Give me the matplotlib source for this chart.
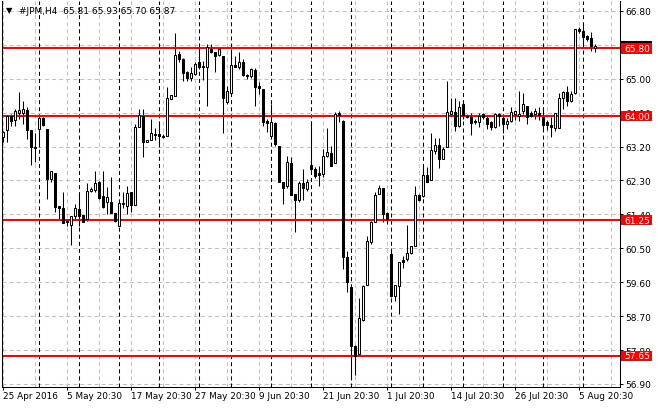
import numpy as np
import matplotlib
matplotlib.use("Agg")
import matplotlib.pyplot as plt
from matplotlib.patches import Rectangle

plt.rcParams["font.family"] = ["DejaVu Sans"]
plt.rcParams["lines.scale_dashes"] = False

symbol = "#JPM,H4"

# H4 bars, 25 Apr 2016 .. 8 Aug 2016 (open, high, low, close)
opens = [63.44, 63.64, 64.02, 63.90, 64.09, 64.09, 64.17, 63.64, 63.18, 63.66,
         63.95, 63.66, 62.35, 62.51, 61.61, 61.58, 61.23, 61.12, 61.36, 61.54,
         61.38, 61.27, 62.01, 62.04, 62.25, 61.89, 61.72, 61.74, 61.43, 61.08,
         61.68, 61.61, 62.00, 61.65, 63.71, 64.02, 63.31, 63.38, 63.54, 63.52,
         63.49, 63.48, 64.47, 64.55, 65.65, 65.52, 65.17, 65.02, 65.12, 65.43,
         65.33, 65.30, 65.78, 65.70, 65.63, 65.61, 64.39, 64.61, 65.36, 65.31,
         65.45, 65.10, 65.06, 65.23, 64.81, 64.72, 63.88, 63.48, 63.82, 63.22,
         62.25, 62.14, 62.76, 61.94, 61.79, 62.23, 62.07, 62.71, 62.60, 62.49,
         62.48, 62.95, 63.02, 62.75, 64.09, 63.87, 60.26, 59.46, 57.91, 57.69,
         58.60, 59.53, 60.67, 61.21, 61.94, 62.11, 61.43, 60.36, 59.24, 59.49,
         60.19, 60.21, 60.37, 60.55, 61.91, 61.88, 62.44, 62.32, 63.09, 63.24,
         62.88, 63.19, 64.06, 64.11, 63.75, 64.33, 64.01, 63.97, 63.88, 63.84,
         64.05, 63.95, 63.84, 63.72, 64.06, 63.95, 63.81, 63.87, 64.06, 64.02,
         64.13, 64.28, 64.10, 64.06, 64.10, 63.99, 63.84, 63.77, 63.69, 63.68,
         64.49, 64.64, 64.41, 64.61, 66.31, 66.27, 66.12, 66.07, 65.81]
highs = [63.60, 64.03, 64.06, 64.19, 64.64, 64.41, 64.24, 63.64, 63.57, 63.97,
         63.97, 63.66, 62.54, 62.51, 61.61, 61.98, 61.27, 61.36, 61.67, 61.98,
         61.38, 62.23, 62.12, 62.56, 62.29, 62.54, 62.12, 62.38, 61.43, 61.76,
         61.98, 62.16, 62.00, 63.79, 64.19, 64.19, 63.37, 63.93, 63.69, 63.84,
         63.52, 64.77, 64.56, 66.22, 65.74, 65.56, 65.19, 65.30, 65.45, 65.81,
         65.47, 65.92, 65.92, 65.70, 65.81, 65.61, 64.81, 65.78, 65.61, 65.72,
         65.52, 65.12, 65.27, 65.27, 64.90, 64.72, 63.93, 64.34, 63.84, 63.22,
         62.25, 62.95, 62.92, 61.94, 62.29, 62.60, 62.34, 63.88, 62.65, 62.69,
         63.13, 63.68, 63.22, 64.12, 64.13, 63.90, 60.43, 59.46, 57.93, 59.17,
         59.52, 60.83, 61.23, 61.98, 62.18, 62.11, 61.45, 60.52, 59.52, 60.13,
         60.30, 61.11, 60.57, 62.14, 61.94, 62.69, 62.65, 63.57, 63.42, 63.42,
         63.18, 64.94, 64.50, 64.49, 64.41, 64.37, 64.05, 64.08, 63.92, 64.10,
         64.10, 64.00, 63.88, 64.10, 64.10, 64.02, 63.95, 64.24, 64.15, 64.66,
         64.61, 64.28, 64.15, 64.22, 64.24, 64.24, 63.90, 63.99, 64.08, 64.61,
         64.66, 64.81, 64.68, 66.33, 66.36, 66.47, 66.15, 66.25, 65.93]
lows = [63.32, 63.32, 63.75, 63.75, 63.93, 63.79, 63.40, 62.72, 62.78, 63.18,
        63.75, 61.81, 62.25, 61.47, 61.27, 61.16, 61.10, 60.59, 61.27, 61.10,
        61.19, 61.23, 61.98, 61.98, 61.81, 61.58, 61.41, 61.43, 61.19, 61.08,
        61.58, 61.41, 61.47, 61.65, 63.71, 62.91, 63.31, 63.38, 63.38, 63.18,
        63.42, 63.48, 64.45, 64.55, 65.43, 64.94, 64.93, 64.95, 65.10, 65.25,
        64.97, 64.27, 65.69, 65.18, 65.59, 63.57, 64.32, 64.61, 65.30, 65.25,
        65.08, 64.99, 65.03, 64.28, 64.59, 63.75, 63.59, 63.46, 63.22, 62.26,
        61.68, 62.11, 61.92, 60.92, 61.73, 61.78, 62.03, 62.53, 62.36, 62.14,
        62.40, 62.91, 62.69, 62.75, 63.84, 59.95, 59.35, 57.07, 57.13, 57.69,
        58.58, 59.53, 60.62, 61.21, 61.94, 61.19, 61.14, 59.20, 59.11, 58.75,
        59.99, 60.17, 60.35, 60.55, 61.76, 61.85, 62.27, 62.32, 62.99, 62.63,
        62.87, 63.19, 64.02, 63.62, 63.72, 63.93, 63.95, 63.50, 63.79, 63.71,
        63.93, 63.66, 63.64, 63.69, 63.75, 63.57, 63.66, 63.84, 63.90, 63.88,
        64.06, 63.79, 63.99, 63.93, 63.90, 63.62, 63.64, 63.44, 63.62, 63.68,
        64.19, 64.28, 64.37, 64.59, 66.20, 65.83, 66.00, 65.74, 65.70]
closes = [63.59, 64.02, 63.88, 64.15, 64.17, 64.19, 63.64, 63.18, 63.15, 63.95,
          63.77, 62.35, 62.54, 61.60, 61.56, 61.16, 61.19, 61.36, 61.57, 61.35,
          61.21, 62.01, 62.07, 62.23, 61.83, 61.60, 61.87, 61.43, 61.23, 61.70,
          61.70, 61.96, 61.65, 63.72, 64.04, 63.31, 63.37, 63.56, 63.51, 63.48,
          63.46, 64.49, 64.56, 65.63, 65.52, 65.15, 65.01, 65.15, 65.39, 65.31,
          65.32, 65.83, 65.70, 65.61, 65.78, 64.49, 64.68, 65.36, 65.31, 65.45,
          65.10, 65.06, 65.25, 64.77, 64.76, 63.86, 63.82, 63.84, 63.26, 62.26,
          62.10, 62.78, 61.92, 61.79, 62.23, 62.09, 62.27, 62.60, 62.41, 62.45,
          62.95, 63.06, 62.69, 64.06, 64.03, 60.26, 59.61, 57.91, 57.65, 58.64,
          59.49, 60.68, 61.19, 61.92, 62.11, 61.41, 61.27, 59.24, 59.52, 60.13,
          60.14, 60.37, 60.57, 61.92, 61.79, 62.44, 62.27, 63.10, 63.24, 62.87,
          63.13, 64.11, 64.15, 63.75, 64.24, 64.03, 63.99, 63.82, 63.85, 64.02,
          63.97, 63.80, 63.71, 64.06, 64.02, 63.81, 63.88, 64.12, 64.15, 64.06,
          64.33, 63.97, 64.02, 64.13, 64.03, 63.78, 63.77, 63.71, 64.08, 64.50,
          64.64, 64.40, 64.59, 66.31, 66.27, 66.11, 66.05, 65.87, 65.87]

# support / resistance levels drawn in red
levels = [65.80, 64.00, 61.25, 57.65]

# first bar of each trading week (period separators)
week_starts = [9, 19, 29, 39, 49, 57, 67, 77, 87, 97, 105, 115, 125, 135, 145]

# time axis labels (bar index -> text)
label_bars = [0, 16, 32, 48, 64, 80, 96, 112, 128, 144]
label_text = ["25 Apr 2016", "5 May 20:30", "17 May 20:30", "27 May 20:30",
              "9 Jun 20:30", "21 Jun 20:30", "1 Jul 20:30", "14 Jul 20:30",
              "26 Jul 20:30", "5 Aug 20:30"]

price_ticks = [56.90, 57.80, 58.70, 59.60, 60.50, 61.40, 62.30, 63.20,
               64.10, 65.00, 65.90, 66.80]

o = np.array(opens)
h = np.array(highs)
l = np.array(lows)
c = np.array(closes)
x = np.arange(len(o))

fig = plt.figure(figsize=(6.6, 4.1), dpi=100)
ax = fig.add_axes([2 / 660, 22 / 410, 618 / 660, 386 / 410])
ax.set_xlim(-0.325, 154.175)
ax.set_ylim(56.82, 67.06)

grid_kw = dict(color="#c0c0c0", lw=0.75, ls=(0, (2.9, 2.2)), zorder=1)
for p in price_ticks:
    ax.axhline(p, **grid_kw)
for i in range(0, 155, 8):
    ax.axvline(i, **grid_kw)
for i in week_starts:
    ax.axvline(i, color="black", lw=0.75, ls=(0, (2.9, 2.2)), zorder=1.2)

for lv in levels:
    ax.axhline(lv, color="#ff0000", lw=1.5, zorder=1.5)

# candles
ax.vlines(x, l, h, color="black", lw=0.75, zorder=2)
up = c >= o
body = np.maximum(np.abs(c - o), 0.012)
ax.bar(x, body, bottom=np.minimum(o, c), width=0.58,
       color=np.where(up, "white", "black"), edgecolor="black",
       linewidth=0.75, zorder=3)

# axes
for side in ["left", "right", "bottom", "top"]:
    ax.spines[side].set_color("black")
    ax.spines[side].set_linewidth(0.75)
ax.spines["top"].set_visible(False)

# the 65.90 label sits fully under the 65.80 box, so it is left blank
ax.yaxis.tick_right()
ax.set_yticks(price_ticks)
ax.set_yticklabels([f"{p:.2f}" if abs(p - 65.90) > 0.01 else "" for p in price_ticks])
ax.tick_params(axis="y", direction="out", length=2.2, width=0.75, pad=1.5,
               labelsize=6.5, colors="black")
ax.set_xticks(label_bars)
ax.set_xticklabels(label_text)
for t in ax.get_xticklabels():
    t.set_ha("left")
ax.tick_params(axis="x", direction="out", length=2.2, width=0.75, pad=0.8,
               labelsize=6.4, colors="black")

# price label boxes on the right scale
ytr = ax.get_yaxis_transform()
box_h = 0.266
last = c[-1]
ax.add_patch(Rectangle((1.0016, last - box_h / 2), 0.05, box_h, transform=ytr,
                       clip_on=False, facecolor="black", edgecolor="none", zorder=4))
for lv in levels:
    ax.add_patch(Rectangle((1.0016, lv - box_h / 2), 0.05, box_h, transform=ytr,
                           clip_on=False, facecolor="#ff0000", edgecolor="none", zorder=5))
    ax.text(1.0065, lv, f"{lv:.2f}", transform=ytr, color="white", fontsize=6.5,
            va="center", ha="left", zorder=6, clip_on=False)

# chart header
fig.text(6 / 660, 1 - 10.5 / 410, "\u25bc", fontsize=6, va="center", ha="left")
fig.text(19 / 660, 1 - 11 / 410,
         f"{symbol}  {o[-1]:.2f} {h[-1]:.2f} {l[-1]:.2f} {c[-1]:.2f}",
         fontsize=6.5, va="center", ha="left")

fig.savefig("out.png", dpi=100)
